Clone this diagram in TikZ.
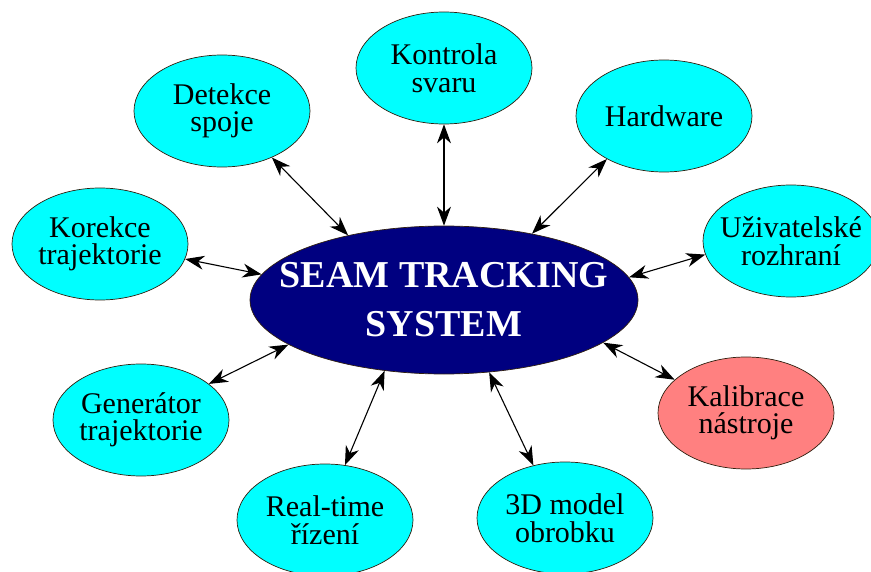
\documentclass[tikz,border=0pt]{standalone}
\usepackage{fontspec}
\setmainfont{Liberation Serif}
\usetikzlibrary{shapes.geometric,arrows.meta}
\definecolor{satcyan}{HTML}{00FFFF}
\definecolor{hubnavy}{HTML}{000080}
\definecolor{satsalmon}{HTML}{FF8080}
\begin{document}
\begin{tikzpicture}[x=1pt,y=-1pt,
  sat/.style={ellipse,draw=black!75!brown,line width=0.7pt,fill=satcyan,
    minimum width=176pt,minimum height=112pt,inner sep=0pt},
  sattext/.style={align=center,inner sep=0pt,font=\fontsize{30}{27.5}\selectfont},
  hub/.style={ellipse,draw=black!75!brown,line width=0.7pt,fill=hubnavy,
    minimum width=388pt,minimum height=148pt,inner sep=0pt},
  hubtext/.style={align=center,inner sep=0pt,text=white,
    font=\fontsize{38}{49}\selectfont\bfseries},
  link/.style={line width=1.1pt,{Stealth[length=19pt,width=14pt,inset=6pt]}-{Stealth[length=19pt,width=14pt,inset=6pt]}}]
\useasboundingbox (0,0) rectangle (871,572);
\node[hub] (C) at (444,300) {};
\node[hubtext] (Ct) at (C.center) {SEAM TRACKING\\SYSTEM};
\node[sat] (K) at (444,68) {};
\node[sattext] (Kt) at (K.center) {Kontrola\\svaru};
\node[sat] (D) at (222,111) {};
\node[sattext] (Dt) at (D.center) {Detekce\\spoje};
\node[sat] (H) at (664,116) {};
\node[sattext] (Ht) at (H.center) {Hardware};
\node[sat] (U) at (791,241) {};
\node[sattext] (Ut) at (U.center) {Uživatelské\\rozhraní};
\node[sat] (Ko) at (100,244) {};
\node[sattext] (Kot) at (Ko.center) {Korekce\\trajektorie};
\node[sat] (G) at (141,420) {};
\node[sattext] (Gt) at (G.center) {Generátor\\trajektorie};
\node[sat] (R) at (325,520) {};
\node[sattext] (Rt) at (R.center) {Real-time\\řízení};
\node[sat] (M) at (565,518) {};
\node[sattext] (Mt) at (M.center) {3D model\\obrobku};
\node[sat,fill=satsalmon] (Ka) at (746,413) {};
\node[sattext] (Kat) at (Ka.center) {Kalibrace\\nástroje};
\draw[link] (K.-90) -- (C.90);
\draw[link] (D.-43) -- (C.146.8);
\draw[link] (H.-143) -- (C.37.7);
\draw[link] (U.189) -- (C.7);
\draw[link] (Ko.-10) -- (C.172.5);
\draw[link] (G.28.8) -- (C.-164.5);
\draw[link] (R.70.7) -- (C.-130);
\draw[link] (M.121.6) -- (C.-58);
\draw[link] (Ka.155) -- (C.-15);
\end{tikzpicture}
\end{document}
